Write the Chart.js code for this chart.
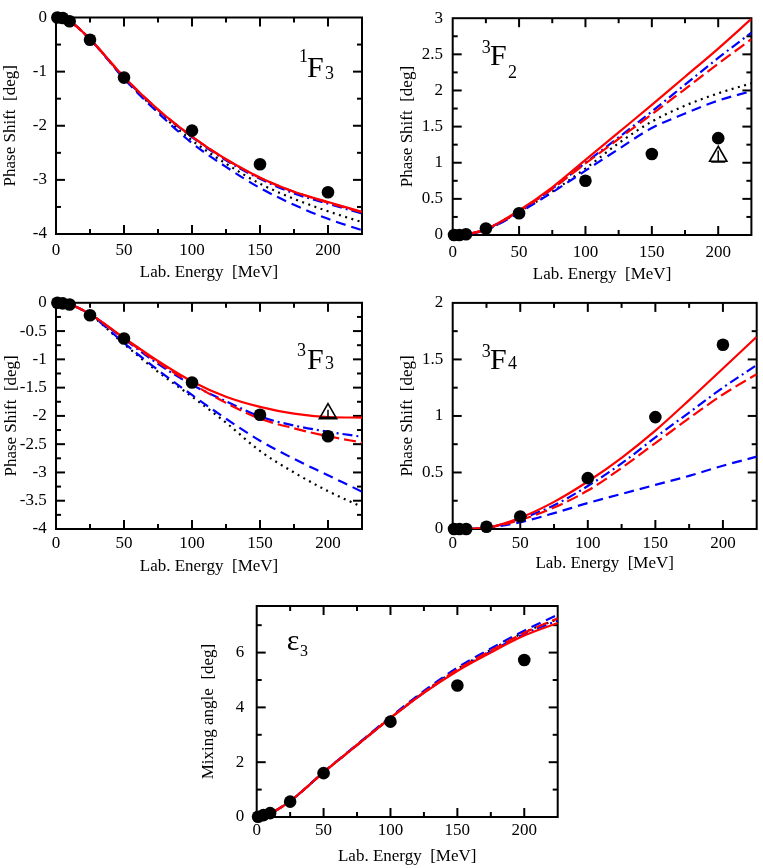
<!DOCTYPE html>
<html><head><meta charset="utf-8">
<script src="https://cdn.jsdelivr.net/npm/chart.js@4.4.1/dist/chart.umd.min.js"></script>
<style>
html,body{margin:0;padding:0;background:#fff;}
#wrap{position:relative;width:763px;height:868px;overflow:hidden;background:#fff;}
canvas{position:absolute;}
</style></head><body><div id="wrap">
<canvas id="c1" width="380" height="285" style="left:0px;top:0px"></canvas>
<canvas id="c2" width="366" height="285" style="left:397px;top:0px"></canvas>
<canvas id="c3" width="380" height="292" style="left:0px;top:285px"></canvas>
<canvas id="c4" width="366" height="292" style="left:397px;top:285px"></canvas>
<canvas id="c5" width="380" height="283" style="left:198px;top:585px"></canvas>
</div>
<script>
// ---------- data ----------
const ptsE   = [1, 5, 10, 25, 50, 100, 150, 200];
const curveE = [0, 10, 25, 50, 75, 100, 125, 150, 175, 200, 225];
const xTickLabels = [0, 50, 100, 150, 200];

// 1F3
const f13Pts    = [0, -0.01, -0.07, -0.41, -1.11, -2.09, -2.71, -3.23];
const f13Solid  = [0, -0.07, -0.40, -1.10, -1.70, -2.20, -2.62, -2.96, -3.22, -3.41, -3.59];
const f13RDash  = [0, -0.07, -0.40, -1.10, -1.70, -2.20, -2.62, -2.96, -3.22, -3.42, -3.60];
const f13BDD    = [0, -0.07, -0.40, -1.11, -1.71, -2.21, -2.64, -2.98, -3.25, -3.44, -3.62];
const f13BDash  = [0, -0.07, -0.40, -1.13, -1.76, -2.32, -2.76, -3.15, -3.46, -3.72, -3.93];
const f13Dot    = [0, -0.07, -0.40, -1.12, -1.74, -2.27, -2.70, -3.07, -3.35, -3.58, -3.78];
const f13YTicks = [0, -1, -2, -3, -4];

// 3F2
const f32Pts    = [0, 0, 0.01, 0.09, 0.30, 0.75, 1.12, 1.34];
const f32Tri    = {x: 200, y: 1.09, err: 0.08};
const f32Solid  = [0, 0.01, 0.08, 0.34, 0.66, 1.04, 1.42, 1.80, 2.19, 2.58, 2.99];
const f32RDash  = [0, 0.01, 0.08, 0.33, 0.64, 0.99, 1.33, 1.67, 2.02, 2.37, 2.71];
const f32BDD    = [0, 0.01, 0.08, 0.33, 0.64, 1.00, 1.35, 1.71, 2.08, 2.45, 2.80];
const f32BDash  = [0, 0.01, 0.07, 0.31, 0.59, 0.89, 1.19, 1.48, 1.68, 1.86, 1.99];
const f32Dot    = [0, 0.01, 0.07, 0.32, 0.60, 0.92, 1.27, 1.57, 1.79, 1.96, 2.10];
const f32YTicks = [0, 0.5, 1, 1.5, 2, 2.5, 3];

// 3F3
const f33Pts    = [0, -0.01, -0.03, -0.22, -0.63, -1.41, -1.98, -2.36];
const f33Tri    = {x: 200, y: -1.96, err: 0.07};
const f33Solid  = [0, -0.03, -0.20, -0.62, -1.03, -1.39, -1.66, -1.84, -1.96, -2.02, -2.03];
const f33RDash  = [0, -0.03, -0.20, -0.63, -1.05, -1.43, -1.77, -2.05, -2.22, -2.36, -2.47];
const f33BDD    = [0, -0.03, -0.20, -0.64, -1.08, -1.45, -1.74, -2.01, -2.17, -2.28, -2.37];
const f33BDash  = [0, -0.03, -0.21, -0.71, -1.19, -1.63, -2.05, -2.44, -2.76, -3.05, -3.34];
const f33Dot    = [0, -0.03, -0.21, -0.73, -1.22, -1.66, -2.12, -2.62, -3.00, -3.33, -3.61];
const f33YTicks = [0, -0.5, -1, -1.5, -2, -2.5, -3, -3.5, -4];

// 3F4
const f34Pts    = [0, 0, 0, 0.02, 0.11, 0.45, 0.99, 1.63];
const f34Solid  = [0, 0, 0.01, 0.10, 0.24, 0.42, 0.63, 0.87, 1.14, 1.42, 1.70];
const f34RDash  = [0, 0, 0.01, 0.08, 0.19, 0.34, 0.54, 0.76, 0.98, 1.19, 1.37];
const f34BDD    = [0, 0, 0.01, 0.09, 0.21, 0.38, 0.58, 0.81, 1.03, 1.25, 1.45];
const f34BDash  = [0, 0, 0.01, 0.06, 0.14, 0.23, 0.31, 0.39, 0.47, 0.56, 0.64];
const f34YTicks = [0, 0.5, 1, 1.5, 2];

// epsilon 3
const e3Pts     = [0.01, 0.07, 0.14, 0.56, 1.60, 3.48, 4.80, 5.73];
const e3Solid   = [0, 0.13, 0.58, 1.63, 2.62, 3.61, 4.53, 5.33, 6.00, 6.62, 7.08];
const e3RDash   = [0, 0.13, 0.58, 1.63, 2.63, 3.62, 4.55, 5.38, 6.07, 6.72, 7.25];
const e3BDD     = [0, 0.13, 0.58, 1.63, 2.62, 3.61, 4.54, 5.35, 6.04, 6.68, 7.17];
const e3BDash   = [0, 0.13, 0.59, 1.64, 2.65, 3.65, 4.60, 5.45, 6.15, 6.80, 7.38];
const e3Dot     = [0, 0.13, 0.58, 1.63, 2.63, 3.62, 4.56, 5.40, 6.10, 6.74, 7.22];
const e3YTicks  = [0, 2, 4, 6];

// ---------- styles ----------
const FONT = '"Liberation Serif", "Times New Roman", serif';
const curveStyles = {
  solid: {color: '#ff0000', dash: []},
  rdash: {color: '#ff0000', dash: [12, 5]},
  bdd:   {color: '#0000ff', dash: [10, 4, 2, 4]},
  bdash: {color: '#0000ff', dash: [10, 6]},
  dot:   {color: '#000000', dash: [2, 4.5]}
};

// ---------- plugins ----------
const frameTicks = {
  id: 'frameTicks',
  beforeDatasetsDraw(chart, args, o) {
    const {ctx, chartArea: a, scales: {x, y}} = chart;
    ctx.save();
    ctx.strokeStyle = '#000';
    ctx.lineWidth = 2;
    ctx.lineCap = 'butt';
    const seg = (x1, y1, x2, y2) => { ctx.beginPath(); ctx.moveTo(x1, y1); ctx.lineTo(x2, y2); ctx.stroke(); };
    const isMajor = (v, step) => Math.abs(v / step - Math.round(v / step)) < 1e-6;
    for (let i = 1; ; i++) {
      const v = x.min + i * o.xMinor;
      if (v >= x.max - 1e-9) break;
      const len = isMajor(v, o.xMajor) ? 9 : 5;
      const px = x.getPixelForValue(v);
      seg(px, a.bottom, px, a.bottom - len);
      seg(px, a.top, px, a.top + len);
    }
    for (let i = 1; ; i++) {
      const v = y.min + i * o.yMinor;
      if (v >= y.max - 1e-9) break;
      const len = isMajor(v, o.yMajor) ? 9 : 5;
      const py = y.getPixelForValue(v);
      seg(a.left, py, a.left + len, py);
      seg(a.right, py, a.right - len, py);
    }
    ctx.strokeRect(a.left, a.top, a.right - a.left, a.bottom - a.top);
    ctx.restore();
  }
};

const errBars = {
  id: 'errBars',
  afterDatasetsDraw(chart) {
    const {ctx, scales: {x, y}} = chart;
    ctx.save();
    ctx.strokeStyle = '#000';
    ctx.lineWidth = 1.5;
    chart.data.datasets.forEach(ds => {
      if (!ds.errors) return;
      ds.data.forEach((p, i) => {
        const px = x.getPixelForValue(p.x);
        const y1 = y.getPixelForValue(p.y - ds.errors[i]);
        const y2 = y.getPixelForValue(p.y + ds.errors[i]);
        ctx.beginPath(); ctx.moveTo(px, y1); ctx.lineTo(px, y2);
        ctx.moveTo(px - 7, y1); ctx.lineTo(px + 7, y1);
        ctx.stroke();
      });
    });
    ctx.restore();
  }
};

const panelLabel = {
  id: 'panelLabel',
  afterDraw(chart, args, o) {
    const ctx = chart.ctx;
    ctx.save();
    ctx.fillStyle = '#000';
    ctx.textAlign = 'left';
    ctx.textBaseline = 'alphabetic';
    (o.parts || []).forEach(p => {
      ctx.font = p.size + 'px ' + FONT;
      ctx.fillText(p.text, p.x, p.y);
    });
    ctx.restore();
  }
};

// ---------- builder ----------
function buildPanel(p) {
  const datasets = [];
  datasets.push({
    label: 'data', data: p.pts.map((v, i) => ({x: ptsE[i], y: v})),
    showLine: false, pointRadius: 6.3, pointBackgroundColor: '#000', pointBorderColor: '#000',
    pointBorderWidth: 0, clip: false
  });
  if (p.tri) {
    datasets.push({
      label: 'tri', data: [{x: p.tri.x, y: p.tri.y}], errors: [p.tri.err],
      showLine: false, pointStyle: 'triangle', pointRadius: 10,
      pointBackgroundColor: 'rgba(0,0,0,0)', pointBorderColor: '#000', pointBorderWidth: 1.6, clip: false
    });
  }
  p.curves.forEach(c => {
    const st = curveStyles[c.style];
    datasets.push({
      label: c.style, data: c.values.map((v, i) => ({x: curveE[i], y: v})),
      showLine: true, pointRadius: 0, borderColor: st.color, borderWidth: 2.2,
      borderDash: st.dash, cubicInterpolationMode: 'monotone', fill: false
    });
  });
  const tickFont = {family: FONT, size: 17, lineHeight: 1};
  const titleFont = {family: FONT, size: 17, lineHeight: 1.2};
  new Chart(document.getElementById(p.id), {
    type: 'scatter',
    data: {datasets},
    plugins: [frameTicks, errBars, panelLabel],
    options: {
      responsive: false, animation: false, events: [], devicePixelRatio: 1,
      layout: {padding: {top: p.padTop, right: p.padRight, left: 0, bottom: 0}},
      plugins: {
        legend: {display: false}, tooltip: {enabled: false},
        frameTicks: {xMajor: 50, xMinor: 25, yMajor: p.yMajor, yMinor: p.yMinor},
        panelLabel: {parts: p.label}
      },
      scales: {
        x: {
          type: 'linear', min: 0, max: 225,
          grid: {display: false, drawTicks: false}, border: {display: false},
          afterBuildTicks: s => { s.ticks = xTickLabels.map(v => ({value: v})); },
          afterFit: s => { s.height = p.xAxisH; },
          ticks: {font: tickFont, color: '#000', padding: p.xTickPad, maxRotation: 0, autoSkip: false, includeBounds: false,
                  callback: v => String(v)},
          title: {display: true, text: 'Lab. Energy  [MeV]', font: titleFont, color: '#000',
                  padding: {top: 0, bottom: p.xTitlePad}}
        },
        y: {
          type: 'linear', min: p.yMin, max: p.yMax,
          grid: {display: false, drawTicks: false}, border: {display: false},
          afterBuildTicks: s => { s.ticks = p.yTicks.map(v => ({value: v})); },
          afterFit: s => { s.width = p.yAxisW; },
          ticks: {font: tickFont, color: '#000', padding: p.yTickPad, autoSkip: false, includeBounds: false,
                  callback: v => String(v)},
          title: {display: true, text: p.yTitle, font: titleFont, color: '#000',
                  padding: {top: p.yTitlePad, bottom: 0}}
        }
      }
    }
  });
}

const PS = 'Phase Shift  [deg]';
buildPanel({
  id: 'c1', pts: f13Pts, yMin: -4, yMax: 0, yTicks: f13YTicks, yMajor: 1, yMinor: 0.5, yTitle: PS,
  padTop: 9, padRight: 18, yAxisW: 56, xAxisH: 51, xTickPad: 8.5, yTickPad: 9, xTitlePad: 1.8, yTitlePad: 0,
  curves: [{style: 'solid', values: f13Solid}, {style: 'rdash', values: f13RDash}, {style: 'bdd', values: f13BDD},
           {style: 'bdash', values: f13BDash}, {style: 'dot', values: f13Dot}],
  label: [{text: '1', size: 18, x: 299, y: 62}, {text: 'F', size: 30, x: 307, y: 77}, {text: '3', size: 18, x: 325, y: 79}]
});
buildPanel({
  id: 'c2', pts: f32Pts, tri: f32Tri, yMin: 0, yMax: 3, yTicks: f32YTicks, yMajor: 0.5, yMinor: 0.25, yTitle: PS,
  padTop: 9, padRight: 4, yAxisW: 55.7, xAxisH: 50, xTickPad: 9.5, yTickPad: 9.7, xTitlePad: 0, yTitlePad: 0.3,
  curves: [{style: 'solid', values: f32Solid}, {style: 'rdash', values: f32RDash}, {style: 'bdd', values: f32BDD},
           {style: 'bdash', values: f32BDash}, {style: 'dot', values: f32Dot}],
  label: [{text: '3', size: 18, x: 84.7, y: 53}, {text: 'F', size: 30, x: 93, y: 65}, {text: '2', size: 18, x: 111, y: 78}]
});
buildPanel({
  id: 'c3', pts: f33Pts, tri: f33Tri, yMin: -4, yMax: 0, yTicks: f33YTicks, yMajor: 0.5, yMinor: 0.25, yTitle: PS,
  padTop: 17, padRight: 18, yAxisW: 56, xAxisH: 48, xTickPad: 6, yTickPad: 9.3, xTitlePad: 0.3, yTitlePad: 1,
  curves: [{style: 'solid', values: f33Solid}, {style: 'rdash', values: f33RDash}, {style: 'bdd', values: f33BDD},
           {style: 'bdash', values: f33BDash}, {style: 'dot', values: f33Dot}],
  label: [{text: '3', size: 18, x: 297, y: 71}, {text: 'F', size: 30, x: 307, y: 84}, {text: '3', size: 18, x: 325, y: 84}]
});
buildPanel({
  id: 'c4', pts: f34Pts, yMin: 0, yMax: 2, yTicks: f34YTicks, yMajor: 0.5, yMinor: 0.25, yTitle: PS,
  padTop: 17, padRight: 4, yAxisW: 55.7, xAxisH: 48, xTickPad: 6, yTickPad: 9.4, xTitlePad: 3, yTitlePad: 0.3,
  curves: [{style: 'solid', values: f34Solid}, {style: 'rdash', values: f34RDash}, {style: 'bdd', values: f34BDD},
           {style: 'bdash', values: f34BDash}],
  label: [{text: '3', size: 18, x: 84.7, y: 72}, {text: 'F', size: 30, x: 93, y: 84}, {text: '4', size: 18, x: 111, y: 84}]
});
buildPanel({
  id: 'c5', pts: e3Pts, yMin: 0, yMax: 7.7, yTicks: e3YTicks, yMajor: 2, yMinor: 1, yTitle: 'Mixing angle  [deg]',
  padTop: 12, padRight: 20.3, yAxisW: 58.7, xAxisH: 51, xTickPad: 5.5, yTickPad: 12.5, xTitlePad: 1.1, yTitlePad: 0.8,
  curves: [{style: 'solid', values: e3Solid}, {style: 'rdash', values: e3RDash}, {style: 'bdd', values: e3BDD},
           {style: 'bdash', values: e3BDash}, {style: 'dot', values: e3Dot}],
  label: [{text: 'ε', size: 30, x: 88.7, y: 65}, {text: '3', size: 16, x: 102, y: 70.7}]
});
</script>
</body></html>
